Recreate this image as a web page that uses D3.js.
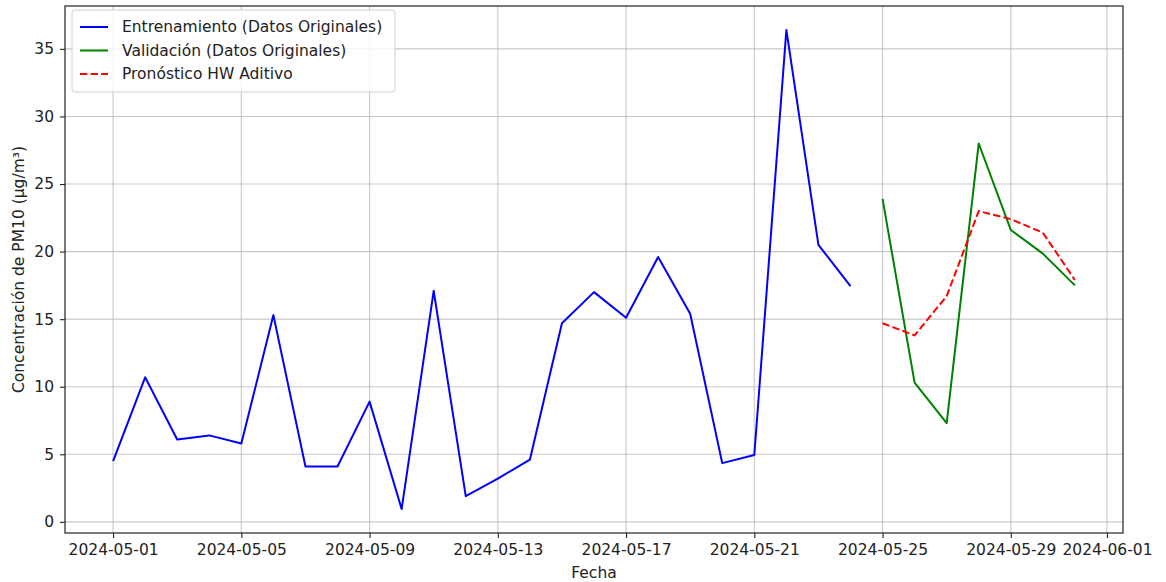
<!DOCTYPE html>
<html>
<head>
<meta charset="utf-8">
<script src="https://cdn.jsdelivr.net/npm/d3@7"></script>
<style>
  html, body { margin: 0; padding: 0; background: #fff; }
  svg { display: block; }
  text { font-family: "DejaVu Sans", sans-serif; fill: #222; }
</style>
</head>
<body>
<svg id="chart" width="1166" height="582"></svg>
<script>
// PM10 daily concentration: training series, validation series and additive Holt-Winters forecast
const trainDates = ["2024-05-01","2024-05-02","2024-05-03","2024-05-04","2024-05-05","2024-05-06",
  "2024-05-07","2024-05-08","2024-05-09","2024-05-10","2024-05-11","2024-05-12","2024-05-13",
  "2024-05-14","2024-05-15","2024-05-16","2024-05-17","2024-05-18","2024-05-19","2024-05-20",
  "2024-05-21","2024-05-22","2024-05-23","2024-05-24"];
const trainValues = [4.5, 10.7, 6.1, 6.4, 5.8, 15.3, 4.1, 4.1, 8.9, 0.95, 17.1, 1.9, 3.2,
  4.6, 14.7, 17.0, 15.1, 19.6, 15.4, 4.35, 4.95, 36.4, 20.5, 17.45];

const validDates = ["2024-05-25","2024-05-26","2024-05-27","2024-05-28","2024-05-29","2024-05-30","2024-05-31"];
const validValues = [23.9, 10.3, 7.3, 28.0, 21.6, 19.85, 17.5];
const forecastValues = [14.7, 13.8, 16.7, 23.0, 22.4, 21.4, 17.9];

const xTickLabels = ["2024-05-01","2024-05-05","2024-05-09","2024-05-13","2024-05-17",
  "2024-05-21","2024-05-25","2024-05-29","2024-06-01"];
const yTickValues = [0, 5, 10, 15, 20, 25, 30, 35];

const legendLabels = ["Entrenamiento (Datos Originales)", "Validación (Datos Originales)", "Pronóstico HW Aditivo"];
const seriesColors = ["#0000ff", "#008000", "#ff0000"];

const parse = d3.utcParse("%Y-%m-%d");
const train = trainDates.map((d, i) => ({ date: parse(d), value: trainValues[i] }));
const valid = validDates.map((d, i) => ({ date: parse(d), value: validValues[i] }));
const forecast = validDates.map((d, i) => ({ date: parse(d), value: forecastValues[i] }));

const margin = { left: 65, right: 43, top: 6, bottom: 49 };
const W = 1166, H = 582;
const iw = W - margin.left - margin.right;
const ih = H - margin.top - margin.bottom;

const svg = d3.select("#chart");
const g = svg.append("g").attr("transform", `translate(${margin.left},${margin.top})`);

// Domain padded by 5% on each side, like the default autoscale margins
const allDates = train.concat(valid).map(d => d.date);
const [d0, d1] = d3.extent(allDates);
const span = d1 - d0;
const x = d3.scaleUtc()
  .domain([new Date(+d0 - 0.05 * span), new Date(+d1 + 0.05 * span)])
  .range([0, iw]);

const allVals = trainValues.concat(validValues, forecastValues);
const [v0, v1] = d3.extent(allVals);
const vs = v1 - v0;
const y = d3.scaleLinear()
  .domain([v0 - 0.05 * vs, v1 + 0.05 * vs])
  .range([ih, 0]);

const xTicks = xTickLabels.map(parse);

// Grid
g.append("g").selectAll("line").data(xTicks).join("line")
  .attr("x1", d => x(d)).attr("x2", d => x(d))
  .attr("y1", 0).attr("y2", ih)
  .attr("stroke", "#b0b0b0").attr("stroke-opacity", 0.7).attr("stroke-width", 1.1);
g.append("g").selectAll("line").data(yTickValues).join("line")
  .attr("x1", 0).attr("x2", iw)
  .attr("y1", d => y(d)).attr("y2", d => y(d))
  .attr("stroke", "#b0b0b0").attr("stroke-opacity", 0.7).attr("stroke-width", 1.1);

// Series lines
const line = d3.line().x(d => x(d.date)).y(d => y(d.value));
g.append("path").datum(train).attr("d", line)
  .attr("fill", "none").attr("stroke", seriesColors[0]).attr("stroke-width", 2).attr("stroke-linejoin", "round");
g.append("path").datum(valid).attr("d", line)
  .attr("fill", "none").attr("stroke", seriesColors[1]).attr("stroke-width", 2).attr("stroke-linejoin", "round");
g.append("path").datum(forecast).attr("d", line)
  .attr("fill", "none").attr("stroke", seriesColors[2]).attr("stroke-width", 2)
  .attr("stroke-dasharray", "7.4,3.2");

// Axes
const xAxis = d3.axisBottom(x).tickValues(xTicks).tickFormat(d3.utcFormat("%Y-%m-%d"))
  .tickSizeInner(5).tickSizeOuter(0).tickPadding(6);
const yAxis = d3.axisLeft(y).tickValues(yTickValues).tickFormat(d3.format("d"))
  .tickSizeInner(5).tickSizeOuter(0).tickPadding(6);

const gx = g.append("g").attr("transform", `translate(0,${ih})`).call(xAxis);
const gy = g.append("g").call(yAxis);
[gx, gy].forEach(a => {
  a.select(".domain").remove();
  a.selectAll(".tick line").attr("stroke", "#222").attr("stroke-width", 1.1);
  a.selectAll(".tick text").attr("font-size", 15.5).attr("font-family", "DejaVu Sans, sans-serif").attr("fill", "#222");
});

// Frame
g.append("rect").attr("x", 0).attr("y", 0).attr("width", iw).attr("height", ih)
  .attr("fill", "none").attr("stroke", "#222").attr("stroke-width", 1.2);

// Axis titles
svg.append("text")
  .attr("x", margin.left + iw / 2).attr("y", H - 4)
  .attr("text-anchor", "middle").attr("font-size", 15.5)
  .text("Fecha");
svg.append("text")
  .attr("transform", `translate(24,${margin.top + ih / 2}) rotate(-90)`)
  .attr("text-anchor", "middle").attr("font-size", 15.5)
  .text("Concentración de PM10 (μg/m³)");

// Legend
const lg = g.append("g").attr("transform", "translate(7,4)");
lg.append("rect").attr("x", 0).attr("y", 0).attr("width", 323).attr("height", 82)
  .attr("rx", 3).attr("fill", "#fff").attr("fill-opacity", 0.8)
  .attr("stroke", "#d0d0d0").attr("stroke-width", 1);
legendLabels.forEach((lab, i) => {
  const yy = 17 + i * 23.5;
  lg.append("line").attr("x1", 8).attr("x2", 36).attr("y1", yy).attr("y2", yy)
    .attr("stroke", seriesColors[i]).attr("stroke-width", 2)
    .attr("stroke-dasharray", i === 2 ? "7.4,3.2" : null);
  lg.append("text").attr("x", 50).attr("y", yy).attr("dy", "0.35em")
    .attr("font-size", 15.5).text(lab);
});
</script>
</body>
</html>
